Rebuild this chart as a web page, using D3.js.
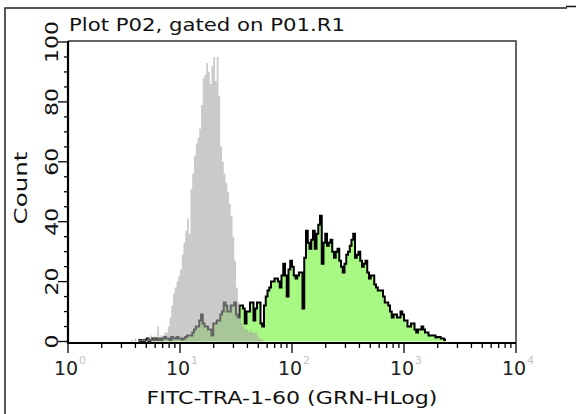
<!DOCTYPE html>
<html><head><meta charset="utf-8">
<script src="https://cdn.jsdelivr.net/npm/d3@7/dist/d3.min.js"></script>
<style>body{margin:0;background:#fff}svg{display:block}text{font-family:"DejaVu Sans",sans-serif}</style>
</head><body>
<svg id="c" width="576" height="414"></svg>
<script>
// ---- data ----
const channelsPerDecade = 64;
const grayStart = 36;
const grayCounts = [0.5,0,1,0,1,0.5,1,1,0.5,1,1,2,1,2,1,5,1.5,2,2,3,3,5,8,12,16,18,20,22,24,29,33,37,41,36,51,56,62,66,68,71,79,88,89,93,90,86,92,95,87,95,82,65,60,56,53,50,46,42,35,27,18,13,8,6,5,4,4,3,4,3,3,3,2,1,1,0.5];
const greenStart = 40;
const greenCounts = [0.5,0,0.5,0,0.5,1,0,0.5,1,0.5,1,0.5,1,0.5,1,1.5,1,1,0.5,1.5,1,1,1.5,1,1,0.7,1,1.5,2,2,2,3,4,5,5,7,9,6,5,5,4,4,2,6,6,7,7,9,10,13,12,10,10,12,12,13,9,8,12,12,11,6,10,10,13,13,7,11,13,13,6,5,12,15,17,18,20,20,21,21,20,18,22,26,22,15,24,27,25,22,21,22,23,23,11,28,37,33,31,34,37,31,36,39,42,26,33,36,32,33,34,30,28,30,31,27,25,23,26,29,30,32,34,36,28,29,30,27,25,26,27,23,21,22,22,19,18,17,17,17,15,13,13,12,10,8,9,9,8,8,10,9,7,7,5,5,6,6,4,3,4,4,5,4,3,3,2,2,2,2,1.3,1.5,1.5,1,1,0.5];
const xTickDecades = [0,1,2,3,4];
const yTicks = d3.range(0,101,5);
const yLabels = [0,20,40,60,80,100];
const title = "Plot P02, gated on P01.R1";
const xTitle = "FITC-TRA-1-60 (GRN-HLog)";
const yTitle = "Count";

// ---- layout ----
const L=68,R=516,T=41,B=343;
const svg=d3.select("#c");
const x=d3.scaleLog().domain([1,1e4]).range([L,R]);
const y=d3.scaleLinear().domain([0,100]).range([341.5,42]);

function series(start,counts){
  const pts=counts.map((v,i)=>({c:start+i,v}));
  pts.push({c:start+counts.length,v:counts[counts.length-1]});
  return pts;
}
const cx=d=>x(Math.pow(10,d.c/channelsPerDecade));
const area=d3.area().curve(d3.curveStepAfter).x(cx).y0(y(0)).y1(d=>y(d.v));
const line=d3.line().curve(d3.curveStepAfter).x(cx).y(d=>y(d.v));

// outer frame
svg.append("path").attr("d","M5,414V8H567").attr("fill","none").attr("stroke","#222").attr("stroke-width",1.5);
svg.append("line").attr("x1",566).attr("x2",576).attr("y1",6.5).attr("y2",6.5).attr("stroke","#111").attr("stroke-width",1.5);

const g=svg.append("g");
const gs=series(greenStart,greenCounts);
g.append("path").attr("d",area(gs)).attr("fill","#a8f884");
g.append("path").attr("d",line(gs)).attr("fill","none").attr("stroke","#000").attr("stroke-width",2);
const gr=series(grayStart,grayCounts);
g.append("path").attr("d",area(gr)).attr("fill","#a6a6a6").attr("fill-opacity",0.6);

// plot frame
svg.append("path").attr("d",`M${L},${T}H${R}V${B}`).attr("fill","none").attr("stroke","#333").attr("stroke-width",1.5);
svg.append("path").attr("d",`M${L},${T}V${B}H${R}`).attr("fill","none").attr("stroke","#000").attr("stroke-width",2.2);

// y ticks
svg.append("g").selectAll("line").data(yTicks).join("line")
  .attr("x1",d=>yLabels.includes(d)?58:64).attr("x2",L).attr("y1",d=>y(d)).attr("y2",d=>y(d))
  .attr("stroke","#000").attr("stroke-width",1.3);
svg.append("g").selectAll("text").data(yLabels).join("text")
  .attr("transform",d=>`translate(58,${y(d)}) rotate(-90)`)
  .attr("text-anchor","middle").attr("font-size",18).attr("fill","#111")
  .attr("textLength",d=>String(d).length*14).attr("lengthAdjust","spacingAndGlyphs")
  .text(d=>d);

// x ticks
const minor=[];
xTickDecades.slice(0,-1).forEach(e=>{for(let k=2;k<10;k++)minor.push(k*Math.pow(10,e));});
svg.append("g").selectAll("line").data(minor).join("line")
  .attr("x1",d=>x(d)).attr("x2",d=>x(d)).attr("y1",B).attr("y2",B+5)
  .attr("stroke","#000").attr("stroke-width",1.3);
svg.append("g").selectAll("line").data(xTickDecades).join("line")
  .attr("x1",d=>x(Math.pow(10,d))).attr("x2",d=>x(Math.pow(10,d))).attr("y1",B).attr("y2",B+10)
  .attr("stroke","#000").attr("stroke-width",1.3);
const xl=svg.append("g").selectAll("g").data(xTickDecades).join("g")
  .attr("transform",d=>`translate(${x(Math.pow(10,d))},375)`);
xl.append("text").attr("text-anchor","middle").attr("x",-2).attr("font-size",19).attr("fill","#222").text("10");
xl.append("text").attr("x",11).attr("y",-11).attr("font-size",11).attr("fill","#c4c4c4").text(d=>d);

// titles
svg.append("text").attr("x",69).attr("y",31).attr("font-size",18).attr("fill","#111")
  .attr("textLength",276).attr("lengthAdjust","spacingAndGlyphs").text(title);
svg.append("text").attr("x",292).attr("y",404).attr("text-anchor","middle").attr("font-size",18).attr("fill","#111")
  .attr("textLength",291).attr("lengthAdjust","spacingAndGlyphs").text(xTitle);
svg.append("text").attr("transform","translate(27,188) rotate(-90)").attr("text-anchor","middle").attr("font-size",18).attr("fill","#111")
  .attr("textLength",73).attr("lengthAdjust","spacingAndGlyphs").text(yTitle);
</script>
</body></html>
